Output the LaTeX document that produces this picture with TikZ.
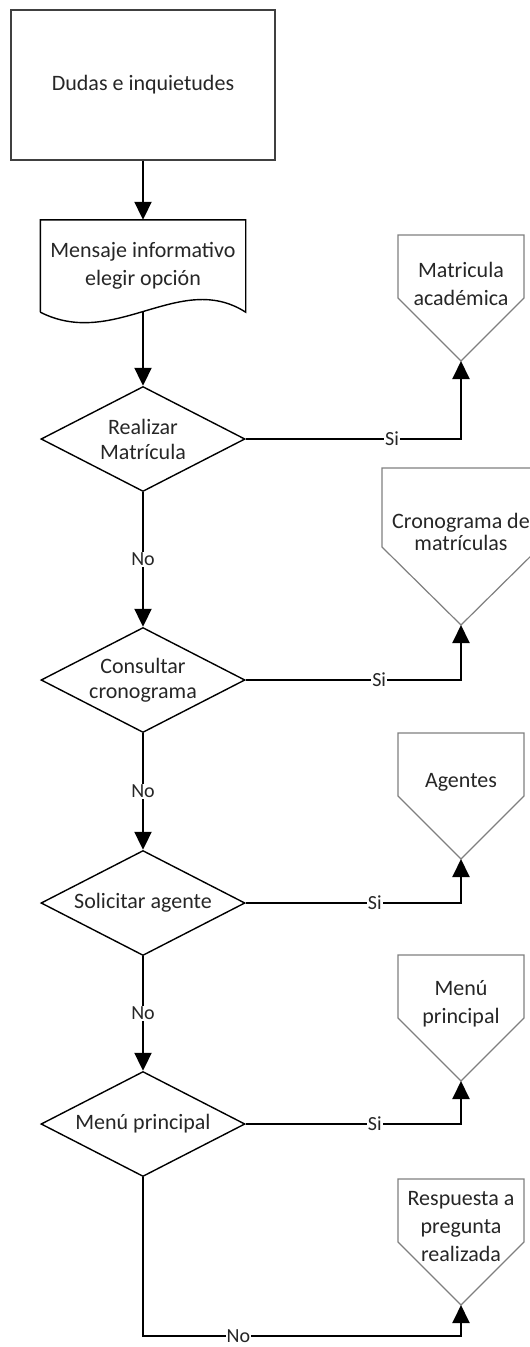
\documentclass[tikz,border=0pt]{standalone}
\usepackage{fontspec}
\setmainfont{Carlito}
\usetikzlibrary{shapes.geometric,arrows.meta}
\definecolor{gristexto}{HTML}{262626}
\definecolor{grisborde}{HTML}{7F7F7F}
\begin{document}
\begin{tikzpicture}[x=1pt, y=-1pt,
    font=\fontsize{22}{28}\selectfont,
    proceso/.style ={rectangle, draw=black!75, line width=1.3pt, text=gristexto,
      minimum width=264pt, minimum height=150pt},
    decision/.style ={diamond, draw, line width=1.4pt, aspect=1.94, inner sep=0pt,
      minimum width=204pt, minimum height=105pt, align=center, text=gristexto,
      font=\fontsize{22}{25}\selectfont},
    texto/.style ={align=center, inner sep=0pt, text=gristexto},
    salida/.style ={draw=grisborde, line width=1.2pt},
    flecha/.style ={line width=2pt, -{Triangle[width=17pt, length=18pt]}},
    etiqueta/.style ={fill=white, inner sep=1pt, text=gristexto,
      font=\fontsize{20}{24}\selectfont}]
   \useasboundingbox (0,0) rectangle (530,1347);
   \clip (0,0) rectangle (530,1347);

   \node[proceso] (inicio) at (143,85) {Dudas e inquietudes};

   \node[texto, minimum width=205pt, minimum height=92pt] (mensaje) at (143,266)
     {Mensaje informativo\\elegir opción};
   \draw[line width=1.4pt] (mensaje.south west) -- (mensaje.north west)
     -- (mensaje.north east) -- (mensaje.south east)
     .. controls (180,270) and (115,350) .. (mensaje.south west);
   \coordinate (msal) at (143,311);

   \node[decision] (realizar)  at (143,439)  {Realizar\\Matrícula};
   \node[decision] (consultar) at (143,680)  {Consultar\\cronograma};
   \node[decision] (solicitar) at (143,903)  {Solicitar agente};
   \node[decision] (menu)      at (143,1124) {Menú principal};
   \coordinate (fin) at (143,1336);

   \foreach \y in {235,733,955,1179}
     \draw[salida] (398,\y) -- ++(126,0) -- ++(0,63) -- ++(-63,63) -- ++(-63,-63) -- cycle;
   \draw[salida] (382,468) -- (540,468) -- (540,547) -- (461,625) -- (382,547) -- cycle;

   \node[texto] (matricula)  at (461,284)  {Matricula\\académica};
   \node[texto, font=\fontsize{22}{22}\selectfont] (cronograma) at (461,532) {Cronograma de\\matrículas};
   \node[texto] (agentes)    at (461,782)  {Agentes};
   \node[texto] (principal)  at (461,1004) {Menú\\principal};
   \node[texto] (respuesta)  at (461,1227) {Respuesta a\\pregunta\\realizada};
   \coordinate (p1) at (461,361);
   \coordinate (p2) at (461,625);
   \coordinate (p3) at (461,859);
   \coordinate (p4) at (461,1081);
   \coordinate (p5) at (461,1305);

   \draw[flecha] (inicio.south) -- (mensaje.north);
   \draw[flecha] (msal) -- (realizar.north);
   \draw[flecha] (realizar.east) -| node[etiqueta, pos=0.34] {Si} (p1);
   \draw[flecha] (realizar.south) -- node[etiqueta] {No} (consultar.north);
   \draw[flecha] (consultar.east) -| node[etiqueta, pos=0.31] {Si} (p2);
   \draw[flecha] (consultar.south) -- node[etiqueta] {No} (solicitar.north);
   \draw[flecha] (solicitar.east) -| node[etiqueta, pos=0.3] {Si} (p3);
   \draw[flecha] (solicitar.south) -- node[etiqueta] {No} (menu.north);
   \draw[flecha] (menu.east) -| node[etiqueta, pos=0.3] {Si} (p4);
   \draw[flecha] (menu.south) -- (fin) -| node[etiqueta, pos=0.15] {No} (p5);

 \end{tikzpicture}
\end{document}
